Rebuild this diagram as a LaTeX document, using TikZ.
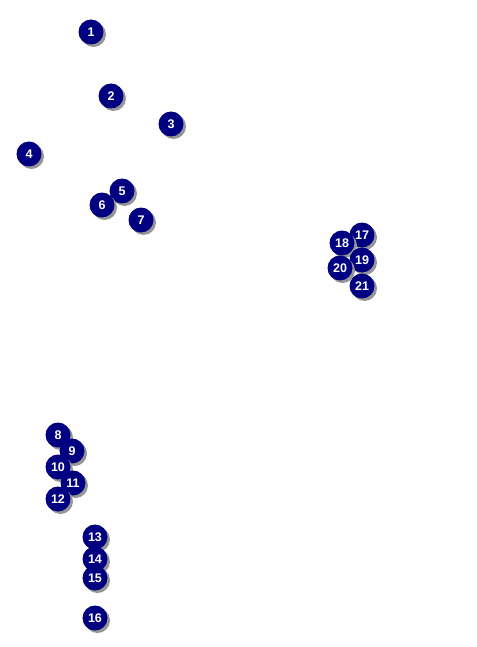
\documentclass[tikz,border=0pt]{standalone}
\usepackage{fontspec}
\setmainfont{Liberation Sans}
\begin{document}
\begin{tikzpicture}[x=1pt,y=-1pt,
  num/.style={circle,fill={rgb,255:red,0;green,0;blue,128},text=white,minimum size=25pt,inner sep=0pt,
    font=\fontsize{12.5}{14}\selectfont\bfseries},
  shadowc/.style={circle,fill={rgb,255:red,150;green,150;blue,150},minimum size=25pt,inner sep=0pt}]
\useasboundingbox (0,0) rectangle (476,647);
\foreach \n/\x/\y in {1/91/32,2/111/96,3/171/124,4/29/154,5/122/191,6/102/205,7/141/220,
  8/58/435,9/72/451,10/58/467,11/73/483,12/58/499,13/95/537,14/95/559,15/95/578,16/95/618,
  17/362/235,18/342/243,19/362/260,20/340/268,21/362/286}{
  \node[shadowc] (s\n) at (\x+2.5,\y+2.5) {};
  \node[num] (n\n) at (\x,\y) {\n};
}
\end{tikzpicture}
\end{document}
